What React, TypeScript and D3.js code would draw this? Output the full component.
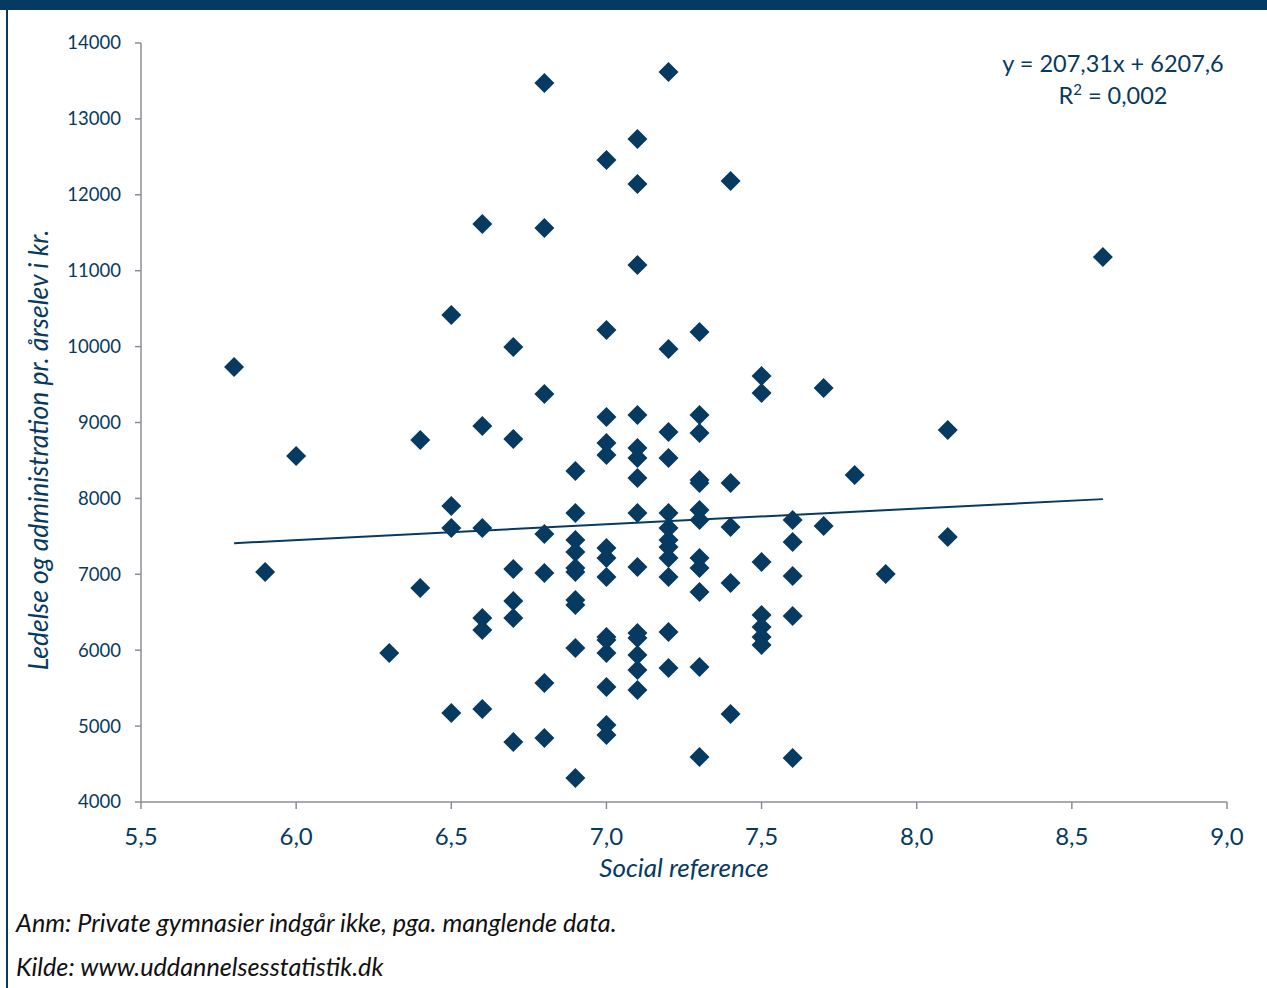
import React from "react";
import * as d3 from "d3";

const socialRef = [
  5.8, 5.9, 6.0, 6.3, 6.4, 6.4,
  6.5, 6.5, 6.5, 6.5,
  6.6, 6.6, 6.6, 6.6, 6.6, 6.6,
  6.7, 6.7, 6.7, 6.7, 6.7, 6.7,
  6.8, 6.8, 6.8, 6.8, 6.8, 6.8, 6.8,
  6.9, 6.9, 6.9, 6.9, 6.9, 6.9, 6.9, 6.9, 6.9, 6.9,
  7.0, 7.0, 7.0, 7.0, 7.0, 7.0, 7.0, 7.0, 7.0, 7.0, 7.0, 7.0, 7.0, 7.0,
  7.1, 7.1, 7.1, 7.1, 7.1, 7.1, 7.1, 7.1, 7.1, 7.1, 7.1, 7.1, 7.1, 7.1,
  7.2, 7.2, 7.2, 7.2, 7.2, 7.2, 7.2, 7.2, 7.2, 7.2, 7.2, 7.2,
  7.3, 7.3, 7.3, 7.3, 7.3, 7.3, 7.3, 7.3, 7.3, 7.3, 7.3, 7.3,
  7.4, 7.4, 7.4, 7.4, 7.4,
  7.5, 7.5, 7.5, 7.5, 7.5, 7.5, 7.5,
  7.6, 7.6, 7.6, 7.6, 7.6,
  7.7, 7.7, 7.8, 7.9, 8.1, 8.1, 8.6,
];

const adminCost = [
  9731, 7030, 8559, 5963, 8769, 6819,
  10416, 7900, 7610, 5173,
  11615, 8954, 7610, 6424, 6266, 5225,
  9995, 8783, 7070, 6648, 6424, 4790,
  13473, 11562, 9375, 7531, 7017, 5568, 4843,
  8361, 7808, 7452, 7294, 7083, 7030, 6661, 6595, 6029, 4316,
  12458, 10219, 9072, 8730, 8572, 7346, 7215, 6964, 6174, 6134, 5963, 5515, 5014, 4883,
  12735, 12142, 11075, 9099, 8664, 8532, 8269, 7808, 7096, 6227, 6161, 5937, 5739, 5476,
  13618, 9968, 8875, 8532, 7808, 7610, 7452, 7360, 7215, 6964, 6240, 5765,
  10192, 9099, 8862, 8242, 8203, 7847, 7715, 7215, 7083, 6767, 5779, 4593,
  12182, 8203, 7623, 6885, 5159,
  9613, 9389, 7162, 6464, 6306, 6174, 6068,
  7715, 7426, 6978, 6451, 4580,
  9454, 7636, 8308, 7004, 8901, 7491, 11180,
];

const xTicks = [5.5, 6.0, 6.5, 7.0, 7.5, 8.0, 8.5, 9.0];
const yTicks = [4000, 5000, 6000, 7000, 8000, 9000, 10000, 11000, 12000, 13000, 14000];

const trendSlope = 207.31;
const trendIntercept = 6207.6;
const trendRange = [5.8, 8.6];

const equationText = "y = 207,31x + 6207,6";
const r2Value = "0,002";
const xTitle = "Social reference";
const yTitle = "Ledelse og administration pr. årselev i kr.";
const notes = [
  "Anm: Private gymnasier indgår ikke, pga. manglende data.",
  "Kilde: www.uddannelsesstatistik.dk",
];

const NAVY = "#073a60";
const AXIS = "#8a8f96";
const FONT = "Lato, 'Open Sans', sans-serif";

export default function App() {
  const W = 1267;
  const H = 988;
  const left = 141;
  const right = 1227;
  const top = 43;
  const bottom = 802;

  const x = d3.scaleLinear().domain([5.5, 9.0]).range([left, right]);
  const y = d3.scaleLinear().domain([4000, 14000]).range([bottom, top]);

  const r = 10;
  const diamond = `M0,${-r}L${r},0L0,${r}L${-r},0Z`;

  const fmtX = (v: number) => v.toFixed(1).replace(".", ",");

  const line = d3
    .line<number>()
    .x((d) => x(d))
    .y((d) => y(trendSlope * d + trendIntercept));

  return (
    <div style={{ position: "absolute", left: 0, top: 0 }}>
      <svg width={W} height={H} style={{ display: "block", background: "#fff" }}>
        <rect x={0} y={0} width={W} height={10} fill={NAVY} />
        <rect x={6} y={0} width={2} height={H} fill={NAVY} />

        {/* Y axis */}
        <line x1={left} x2={left} y1={top} y2={bottom} stroke={AXIS} strokeWidth={1.5} />
        {yTicks.map((t) => (
          <g key={"y" + t}>
            <line x1={left - 6} x2={left} y1={y(t)} y2={y(t)} stroke={AXIS} strokeWidth={1.5} />
            <text
              x={left - 20}
              y={y(t)}
              dy="0.35em"
              textAnchor="end"
              fontFamily={FONT}
              fontSize={18.5}
              fill={NAVY}
            >
              {t}
            </text>
          </g>
        ))}

        {/* X axis */}
        <line x1={left} x2={right} y1={bottom} y2={bottom} stroke={AXIS} strokeWidth={1.5} />
        {xTicks.map((t) => (
          <g key={"x" + t}>
            <line x1={x(t)} x2={x(t)} y1={bottom} y2={bottom + 7} stroke={AXIS} strokeWidth={1.5} />
            <text
              x={x(t)}
              y={bottom + 43}
              textAnchor="middle"
              fontFamily={FONT}
              fontSize={24}
              fill={NAVY}
            >
              {fmtX(t)}
            </text>
          </g>
        ))}

        {/* points */}
        {socialRef.map((sx, i) => (
          <path
            key={"p" + i}
            d={diamond}
            transform={`translate(${x(sx)},${y(adminCost[i])})`}
            fill={NAVY}
          />
        ))}

        {/* trend line */}
        <path d={line(trendRange) || ""} fill="none" stroke={NAVY} strokeWidth={2} />

        {/* equation */}
        <text x={1113} y={72} textAnchor="middle" fontFamily={FONT} fontSize={23.5} fill={NAVY}>
          {equationText}
        </text>
        <text x={1113} y={104} textAnchor="middle" fontFamily={FONT} fontSize={23.5} fill={NAVY}>
          R
          <tspan fontSize={15} dy={-9}>
            2
          </tspan>
          <tspan dy={9}>{" = " + r2Value}</tspan>
        </text>

        {/* axis titles */}
        <text
          x={684}
          y={877}
          textAnchor="middle"
          fontFamily={FONT}
          fontStyle="italic"
          fontSize={26}
          fill={NAVY}
        >
          {xTitle}
        </text>
        <text
          transform={`translate(48,450) rotate(-90)`}
          textAnchor="middle"
          fontFamily={FONT}
          fontStyle="italic"
          fontSize={26.5}
          fill={NAVY}
        >
          {yTitle}
        </text>

        {/* notes */}
        {notes.map((t, i) => (
          <text
            key={"n" + i}
            x={16}
            y={932 + i * 44}
            fontFamily={FONT}
            fontStyle="italic"
            fontSize={25.2}
            fill="#111"
          >
            {t}
          </text>
        ))}
      </svg>
    </div>
  );
}
